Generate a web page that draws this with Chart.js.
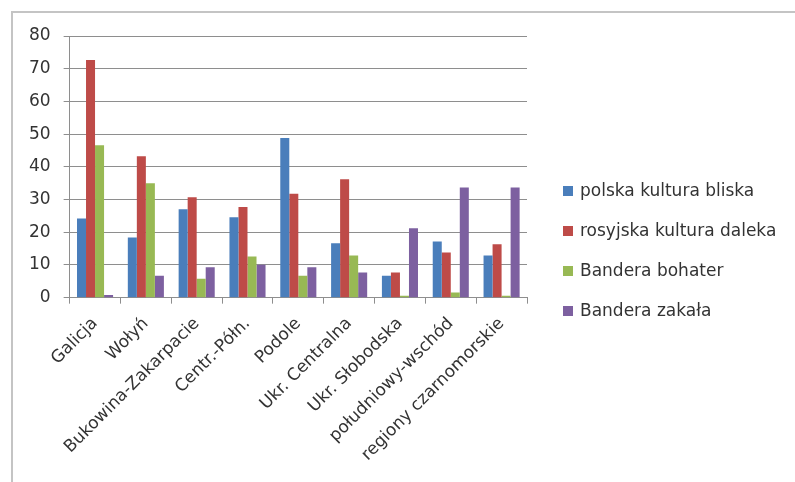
<!DOCTYPE html>
<html>
<head>
<meta charset="utf-8">
<script src="https://cdn.jsdelivr.net/npm/chart.js@4"></script>
<style>
  body { margin: 0; background: #fff; }
  #frame { position: absolute; left: 11px; top: 11px; width: 784px; height: 471px;
           border-top: 2px solid #c4c4c4; border-left: 2px solid #c4c4c4; }
  #chart { position: absolute; left: 0; top: 0; }
</style>
</head>
<body>
<div id="frame"></div>
<canvas id="chart" width="795" height="482"></canvas>
<script>
const regions = ["Galicja", "Wołyń", "Bukowina-Zakarpacie", "Centr.-Półn.", "Podole",
                 "Ukr. Centralna", "Ukr. Słobodska", "południowy-wschód", "regiony czarnomorskie"];
const polskaBliska = [24.2, 18.4, 27, 24.6, 48.8, 16.6, 6.7, 17.2, 12.9];
const rosyjskaDaleka = [72.7, 43.2, 30.7, 27.7, 31.8, 36.2, 7.7, 13.8, 16.3];
const banderaBohater = [46.6, 35, 5.8, 12.6, 6.7, 12.9, 0.6, 1.6, 0.6];
const banderaZakala = [0.8, 6.7, 9.3, 10.1, 9.3, 7.7, 21.2, 33.7, 33.7];
const yTicks = [0, 10, 20, 30, 40, 50, 60, 70, 80];

const textColor = "#333";
const gridColor = "#8e8e8e";
const font = "'DejaVu Sans', sans-serif";

// legend drawn on the right like the original Excel one
const sideLegend = {
    id: "sideLegend",
    afterDraw(chart) {
        const ctx = chart.ctx;
        ctx.save();
        ctx.font = "17px " + font;
        ctx.textBaseline = "middle";
        chart.data.datasets.forEach((ds, i) => {
            const y = 191 + i * 40;
            ctx.fillStyle = ds.backgroundColor;
            ctx.fillRect(563, y - 5, 10, 10);
            ctx.fillStyle = textColor;
            ctx.fillText(ds.label, 580, y + 1);
        });
        ctx.restore();
    }
};

new Chart(document.getElementById("chart"), {
    type: "bar",
    data: {
        labels: regions,
        datasets: [
            { label: "polska kultura bliska", data: polskaBliska, backgroundColor: "#4a7ebb" },
            { label: "rosyjska kultura daleka", data: rosyjskaDaleka, backgroundColor: "#be4b48" },
            { label: "Bandera bohater", data: banderaBohater, backgroundColor: "#98b954" },
            { label: "Bandera zakała", data: banderaZakala, backgroundColor: "#7d60a0" }
        ]
    },
    options: {
        responsive: false,
        animation: false,
        categoryPercentage: 0.71,
        barPercentage: 1.0,
        layout: { padding: { top: 36, left: 16, right: 268, bottom: 7 } },
        plugins: { legend: { display: false }, tooltip: { enabled: false } },
        scales: {
            x: {
                grid: { drawOnChartArea: false, drawTicks: true, tickLength: 6, color: gridColor, offset: true },
                border: { color: gridColor },
                ticks: { color: textColor, font: { family: font, size: 17 }, minRotation: 45, maxRotation: 45, padding: 10 }
            },
            y: {
                min: 0,
                max: 80,
                afterBuildTicks: (axis) => { axis.ticks = yTicks.map(v => ({ value: v })); },
                grid: { color: gridColor, tickLength: 6 },
                border: { color: gridColor },
                ticks: { color: textColor, font: { family: font, size: 17 }, padding: 13 }
            }
        }
    },
    plugins: [sideLegend]
});
</script>
</body>
</html>
